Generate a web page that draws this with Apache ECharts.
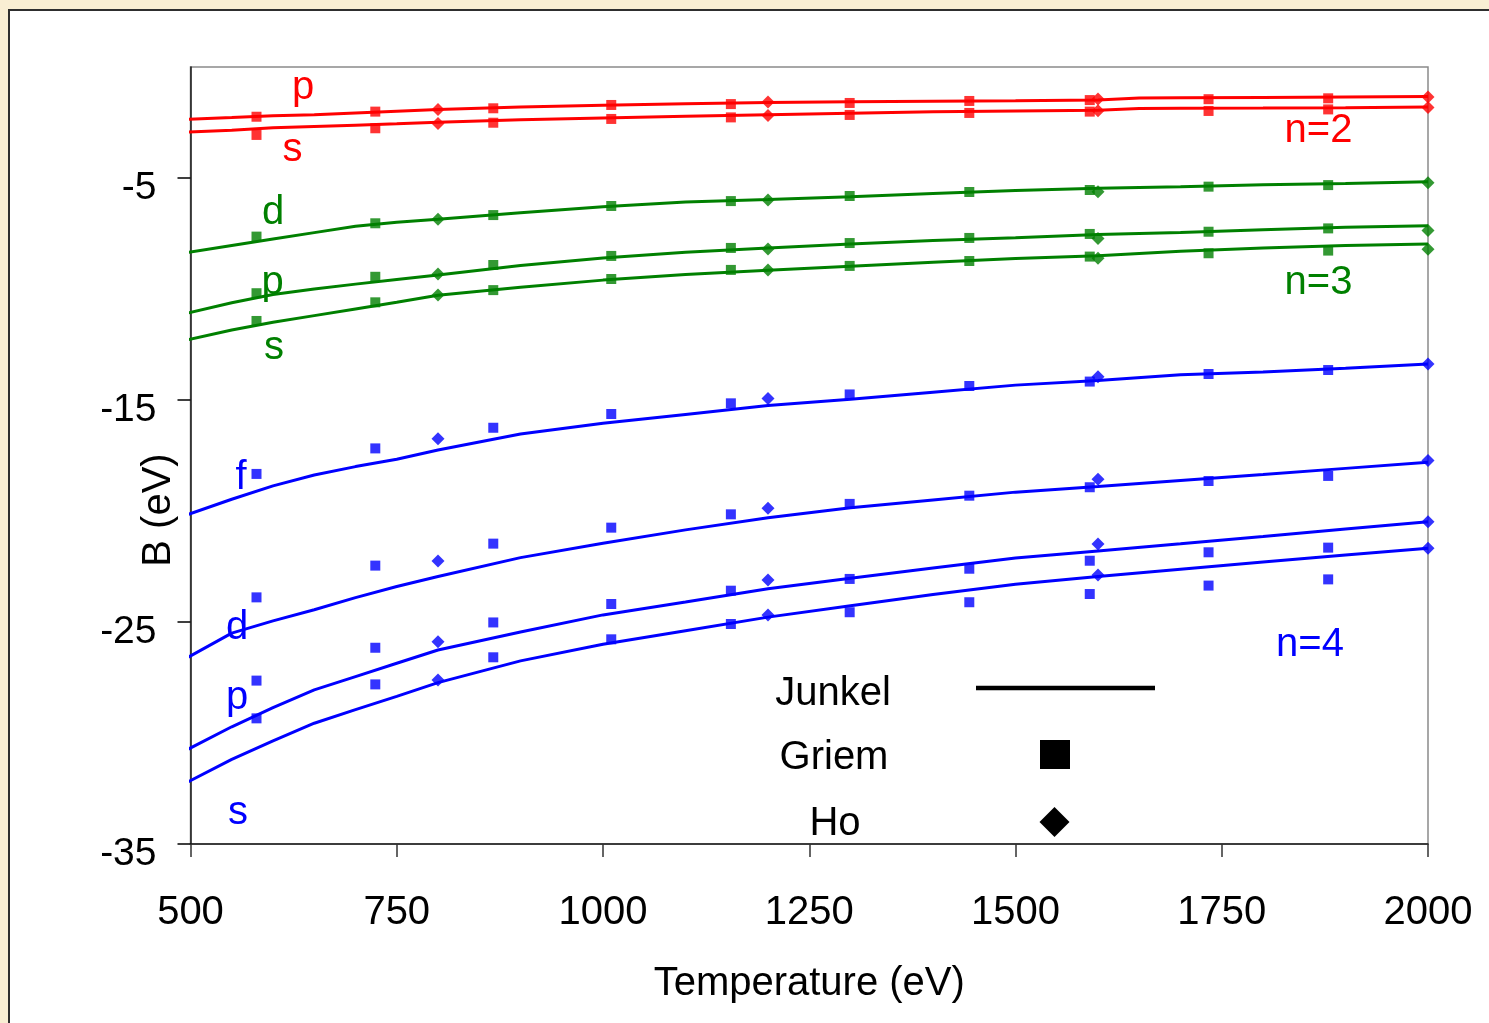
<!DOCTYPE html>
<html>
<head>
<meta charset="utf-8">
<script src="https://cdn.jsdelivr.net/npm/echarts@6/dist/echarts.min.js"></script>
<style>
  html, body { margin: 0; padding: 0; width: 1489px; height: 1023px; overflow: hidden; background: #f9eed3; }
  #panel { position: absolute; left: 8px; top: 9px; width: 1481px; height: 1014px; background: #ffffff;
           border-left: 2px solid #2e2e2e; border-top: 2px solid #2e2e2e; box-sizing: border-box; }
  #chart { position: absolute; left: 0; top: 0; width: 1489px; height: 1023px; }
</style>
</head>
<body>
<div id="panel"></div>
<div id="chart"></div>
<script>
// Temperature grids (eV)
const junkelT_n2 = [495, 550, 600, 650, 700, 750, 800, 900, 1000, 1100, 1200, 1300, 1400, 1500, 1600, 1650, 1700, 1800, 1900, 2000];
const junkelT = [495, 550, 600, 650, 700, 750, 800, 900, 1000, 1100, 1200, 1300, 1400, 1500, 1600, 1700, 1800, 1900, 2000];
const griemT = [580, 724, 867, 1010, 1155, 1299, 1444, 1590, 1734, 1879];
const hoT = [800, 1200, 1600, 2000];

// Axis ticks
const xTicks = [500, 750, 1000, 1250, 1500, 1750, 2000];
const yTicks = [-35, -25, -15, -5];

// Junkel (lines), B in eV
const junkel_n2_p = [-2.36, -2.28, -2.2, -2.15, -2.07, -1.99, -1.91, -1.8, -1.72, -1.65, -1.6, -1.57, -1.54, -1.52, -1.49, -1.4, -1.39, -1.37, -1.35, -1.33];
const junkel_n2_s = [-2.93, -2.85, -2.74, -2.68, -2.62, -2.56, -2.49, -2.38, -2.3, -2.22, -2.15, -2.08, -2.02, -1.98, -1.95, -1.87, -1.86, -1.85, -1.83, -1.8];
const junkel_n3_d = [-8.36, -8.04, -7.75, -7.46, -7.17, -6.99, -6.86, -6.57, -6.3, -6.08, -5.97, -5.85, -5.7, -5.56, -5.46, -5.39, -5.3, -5.25, -5.17];
const junkel_n3_p = [-11.1, -10.62, -10.25, -10.0, -9.78, -9.57, -9.37, -8.94, -8.6, -8.35, -8.15, -7.97, -7.82, -7.69, -7.54, -7.45, -7.33, -7.22, -7.15];
const junkel_n3_s = [-12.3, -11.85, -11.5, -11.2, -10.9, -10.6, -10.28, -9.92, -9.6, -9.35, -9.15, -8.98, -8.8, -8.63, -8.5, -8.3, -8.15, -8.04, -7.97];
const junkel_n4_f = [-20.18, -19.47, -18.87, -18.38, -18.0, -17.67, -17.25, -16.53, -16.05, -15.65, -15.25, -14.97, -14.65, -14.33, -14.12, -13.86, -13.74, -13.57, -13.38];
const junkel_n4_d = [-26.63, -25.5, -24.95, -24.45, -23.9, -23.4, -22.95, -22.1, -21.45, -20.85, -20.3, -19.85, -19.5, -19.15, -18.9, -18.63, -18.36, -18.08, -17.8];
const junkel_n4_p = [-30.77, -29.72, -28.86, -28.06, -27.46, -26.86, -26.26, -25.45, -24.68, -24.1, -23.5, -23.03, -22.57, -22.12, -21.8, -21.48, -21.15, -20.81, -20.48];
const junkel_n4_s = [-32.24, -31.19, -30.35, -29.56, -28.95, -28.35, -27.73, -26.75, -26.0, -25.39, -24.78, -24.27, -23.76, -23.3, -22.95, -22.62, -22.3, -21.98, -21.68];

// Griem (squares)
const griem_n2_p = [-2.24, -2.01, -1.86, -1.71, -1.67, -1.62, -1.53, -1.49, -1.45, -1.41];
const griem_n2_s = [-3.06, -2.76, -2.51, -2.34, -2.27, -2.16, -2.07, -2.01, -1.98, -1.91];
const griem_n3_d = [-7.64, -7.04, -6.67, -6.26, -6.04, -5.81, -5.63, -5.54, -5.39, -5.32];
const griem_n3_p = [-10.19, -9.45, -8.92, -8.51, -8.15, -7.93, -7.7, -7.52, -7.42, -7.27];
const griem_n3_s = [-11.44, -10.6, -10.05, -9.55, -9.14, -8.96, -8.74, -8.54, -8.39, -8.27];
const griem_n4_f = [-18.33, -17.18, -16.25, -15.63, -15.15, -14.75, -14.37, -14.17, -13.83, -13.65];
const griem_n4_d = [-23.89, -22.46, -21.47, -20.75, -20.15, -19.68, -19.31, -18.93, -18.65, -18.42];
const griem_n4_p = [-27.64, -26.16, -25.02, -24.19, -23.59, -23.06, -22.6, -22.24, -21.86, -21.65];
const griem_n4_s = [-29.34, -27.81, -26.59, -25.78, -25.09, -24.56, -24.11, -23.74, -23.36, -23.08];

// Ho (diamonds)
const ho_n2_p = [-1.91, -1.58, -1.44, -1.35];
const ho_n2_s = [-2.54, -2.18, -1.97, -1.82];
const ho_n3_d = [-6.86, -5.99, -5.62, -5.21];
const ho_n3_p = [-9.32, -8.2, -7.72, -7.37];
const ho_n3_s = [-10.27, -9.14, -8.62, -8.21];
const ho_n4_f = [-16.74, -14.93, -13.95, -13.38];
const ho_n4_d = [-22.25, -19.88, -18.57, -17.73];
const ho_n4_p = [-25.89, -23.11, -21.49, -20.48];
const ho_n4_s = [-27.61, -24.68, -22.88, -21.68];

const RED = '#ff0000', GREEN = '#008000', BLUE = '#0000ff';
const FONT = "'Liberation Sans', Arial, Helvetica, sans-serif";

const curves = [
  { color: RED,   jt: junkelT_n2, j: junkel_n2_p, g: griem_n2_p, h: ho_n2_p },
  { color: RED,   jt: junkelT_n2, j: junkel_n2_s, g: griem_n2_s, h: ho_n2_s },
  { color: GREEN, jt: junkelT,    j: junkel_n3_d, g: griem_n3_d, h: ho_n3_d },
  { color: GREEN, jt: junkelT,    j: junkel_n3_p, g: griem_n3_p, h: ho_n3_p },
  { color: GREEN, jt: junkelT,    j: junkel_n3_s, g: griem_n3_s, h: ho_n3_s },
  { color: BLUE,  jt: junkelT,    j: junkel_n4_f, g: griem_n4_f, h: ho_n4_f },
  { color: BLUE,  jt: junkelT,    j: junkel_n4_d, g: griem_n4_d, h: ho_n4_d },
  { color: BLUE,  jt: junkelT,    j: junkel_n4_p, g: griem_n4_p, h: ho_n4_p },
  { color: BLUE,  jt: junkelT,    j: junkel_n4_s, g: griem_n4_s, h: ho_n4_s }
];

const zip = (xs, ys) => xs.map((x, i) => [x, ys[i]]);

const series = [];
curves.forEach(c => {
  series.push({
    type: 'line', data: zip(c.jt, c.j), showSymbol: false, symbol: 'none', clip: false,
    lineStyle: { color: c.color, width: 3 }, z: 2, silent: true
  });
});
curves.forEach(c => {
  series.push({
    type: 'scatter', data: zip(griemT, c.g), symbol: 'rect', symbolSize: 10,
    itemStyle: { color: c.color }, z: 3, silent: true
  });
  series.push({
    type: 'scatter', data: zip(hoT, c.h), symbol: 'diamond', symbolSize: [13, 13],
    itemStyle: { color: c.color }, z: 4, silent: true
  });
});

// Curve labels
const labels = [
  { t: 'p',   c: RED,   x: 303,    y: 88 },
  { t: 's',   c: RED,   x: 292.5,  y: 150 },
  { t: 'n=2', c: RED,   x: 1318.5, y: 131 },
  { t: 'd',   c: GREEN, x: 273,    y: 213 },
  { t: 'p',   c: GREEN, x: 272.5,  y: 283 },
  { t: 's',   c: GREEN, x: 274,    y: 348 },
  { t: 'n=3', c: GREEN, x: 1318.5, y: 283 },
  { t: 'f',   c: BLUE,  x: 241,    y: 478 },
  { t: 'd',   c: BLUE,  x: 237,    y: 628 },
  { t: 'p',   c: BLUE,  x: 237,    y: 698 },
  { t: 's',   c: BLUE,  x: 238,    y: 813 },
  { t: 'n=4', c: BLUE,  x: 1310,   y: 645 }
];

const graphic = labels.map(l => ({
  type: 'text', x: l.x, y: l.y, z: 10, silent: true,
  style: { text: l.t, fill: l.c, font: '40px ' + FONT, textAlign: 'center', textVerticalAlign: 'middle' }
}));

// Y axis title
graphic.push({
  type: 'text', x: 159, y: 510, rotation: Math.PI / 2, silent: true,
  style: { text: 'B (eV)', fill: '#000', font: '40px ' + FONT, textAlign: 'center', textVerticalAlign: 'middle' }
});

// Key: Junkel line, Griem square, Ho diamond
graphic.push(
  { type: 'text', x: 833, y: 694, style: { text: 'Junkel', fill: '#000', font: '40px ' + FONT, textAlign: 'center', textVerticalAlign: 'middle' } },
  { type: 'text', x: 834, y: 758, style: { text: 'Griem', fill: '#000', font: '40px ' + FONT, textAlign: 'center', textVerticalAlign: 'middle' } },
  { type: 'text', x: 835, y: 824, style: { text: 'Ho', fill: '#000', font: '40px ' + FONT, textAlign: 'center', textVerticalAlign: 'middle' } },
  { type: 'line', shape: { x1: 976, y1: 688, x2: 1155, y2: 688 }, style: { stroke: '#000', lineWidth: 4.5 } },
  { type: 'rect', shape: { x: 1040, y: 740, width: 30, height: 29 }, style: { fill: '#000' } },
  { type: 'polygon', shape: { points: [[1054.5, 807], [1069.5, 822], [1054.5, 837], [1039.5, 822]] }, style: { fill: '#000' } }
);

const chart = echarts.init(document.getElementById('chart'), null, { renderer: 'canvas' });
chart.setOption({
  backgroundColor: 'transparent',
  animation: false,
  grid: { left: 190.5, top: 67, width: 1237.5, height: 777, show: true, borderColor: '#8a8a8a', borderWidth: 1.5, backgroundColor: 'transparent' },
  xAxis: {
    type: 'value', min: 500, max: 2000, interval: 250,
    name: 'Temperature (eV)', nameLocation: 'middle', nameGap: 120,
    nameTextStyle: { fontSize: 40, color: '#000', fontFamily: FONT },
    axisLine: { show: true, onZero: false, lineStyle: { color: '#1a1a1a', width: 1.5 } },
    axisTick: { show: true, length: 13, inside: false, customValues: xTicks, lineStyle: { color: '#333', width: 1.5 } },
    axisLabel: { show: true, margin: 49, fontSize: 40, color: '#000', fontFamily: FONT, customValues: xTicks,
                 formatter: v => String(v) },
    splitLine: { show: false }
  },
  yAxis: {
    type: 'value', min: -35, max: 0,
    axisLine: { show: true, onZero: false, lineStyle: { color: '#1a1a1a', width: 1.5 } },
    axisTick: { show: true, length: 13, inside: false, customValues: yTicks, lineStyle: { color: '#000', width: 1.5 } },
    axisLabel: { show: true, margin: 34, fontSize: 39, color: '#000', fontFamily: FONT, customValues: yTicks,
                 verticalAlign: 'top', lineHeight: 20, formatter: v => String(v) },
    splitLine: { show: false }
  },
  series: series,
  graphic: graphic
});
</script>
</body>
</html>
